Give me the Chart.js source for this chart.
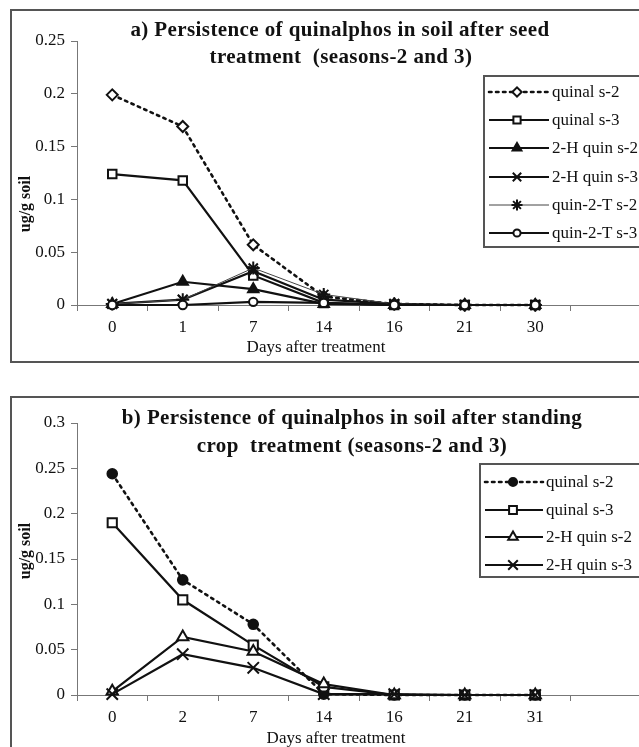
<!DOCTYPE html>
<html><head><meta charset="utf-8">
<script src="https://cdn.jsdelivr.net/npm/chart.js@4.4.0/dist/chart.umd.min.js"></script>
<style>
html,body{margin:0;padding:0;background:#fff;}
body{width:639px;height:747px;overflow:hidden;position:relative;font-family:'Liberation Serif','Times New Roman',serif;color:#111;}
.box{position:absolute;border:2px solid #555;box-sizing:border-box;background:#fff;}
canvas.cv{position:absolute;left:0;}
.t{position:absolute;white-space:pre;transform:translate(-50%,-50%);line-height:1;}
.main{font-weight:bold;font-size:21px;letter-spacing:0.4px;}
.xt{font-size:17px;}
.yt{font-size:16px;font-weight:bold;transform:translate(-50%,-50%) rotate(-90deg);}
.leg{position:absolute;border:2px solid #555;background:#fff;box-sizing:border-box;}
.li{position:absolute;left:0;height:18px;display:flex;align-items:center;white-space:pre;font-size:17px;}
.li canvas{display:block;}
</style>
</head><body>
<div class="box" style="left:10px;top:9px;width:640px;height:354px;"></div>
<div class="box" style="left:10px;top:396px;width:640px;height:380px;"></div>
<canvas id="ca" class="cv" width="660" height="362" style="top:0px;"></canvas>
<canvas id="cb" class="cv" width="660" height="365" style="top:382px;"></canvas>
<div id="overlay"></div>
<script>
// ---- Data ----
const daysA = ['0', '1', '7', '14', '16', '21', '30', ''];
const daysB = ['0', '2', '7', '14', '16', '21', '31', ''];
const yTickLabelsA = ['0', '0.05', '0.1', '0.15', '0.2', '0.25'];
const yTickLabelsB = ['0', '0.05', '0.1', '0.15', '0.2', '0.25', '0.3'];

const namesA = ['quinal s-2', 'quinal s-3', '2-H quin s-2', '2-H quin s-3', 'quin-2-T s-2', 'quin-2-T s-3'];
const quinalS2A = [0.199, 0.169, 0.057, 0.008, 0.001, 0, 0];
const quinalS3A = [0.124, 0.118, 0.028, 0.002, 0, 0, 0];
const hQuinS2A  = [0.001, 0.022, 0.015, 0.001, 0, 0, 0];
const hQuinS3A  = [0.001, 0.005, 0.032, 0.005, 0.001, 0, 0];
const tQuinS2A  = [0.001, 0.005, 0.035, 0.010, 0.001, 0, 0];
const tQuinS3A  = [0, 0, 0.003, 0.002, 0, 0, 0];

const namesB = ['quinal s-2', 'quinal s-3', '2-H quin s-2', '2-H quin s-3'];
const quinalS2B = [0.244, 0.127, 0.078, 0.001, 0, 0, 0];
const quinalS3B = [0.190, 0.105, 0.055, 0.009, 0, 0, 0];
const hQuinS2B  = [0.004, 0.064, 0.048, 0.012, 0, 0, 0];
const hQuinS3B  = [0.001, 0.045, 0.030, 0.001, 0.001, 0, 0];

const titleA = ['a) Persistence of quinalphos in soil after seed', 'treatment  (seasons-2 and 3)'];
const titleB = ['b) Persistence of quinalphos in soil after standing', 'crop  treatment (seasons-2 and 3)'];
const xTitle = 'Days after treatment';
const yTitle = 'ug/g soil';

// ---- Styles ----
const FONT = "'Liberation Serif','Times New Roman',serif";
const INK = '#111';
const dotted = {dash: [2.5, 4.5], width: 2.6};
const stylesA = [
  {ps: 'rectRot', r: 5.5, fill: '#fff', ...dotted},
  {ps: 'rect', r: 6, fill: '#fff', dash: [], width: 2.2},
  {ps: 'triangle', r: 6, fill: INK, dash: [], width: 2.2},
  {ps: 'crossRot', r: 7, fill: INK, dash: [], width: 2.2},
  {ps: 'star', r: 6.5, fill: INK, dash: [], width: 1, color: '#444'},
  {ps: 'circle', r: 4.2, fill: '#fff', dash: [], width: 2.2}
];
const stylesB = [
  {ps: 'circle', r: 4.8, fill: INK, ...dotted},
  {ps: 'rect', r: 6.5, fill: '#fff', dash: [], width: 2.2},
  {ps: 'triangle', r: 6.5, fill: '#fff', dash: [], width: 2.2},
  {ps: 'crossRot', r: 8, fill: INK, dash: [], width: 2.2}
];

function buildSets(names, series, styles) {
  return names.map((n, i) => {
    const s = styles[i];
    return {
      label: n, data: series[i], order: names.length - i,
      borderColor: s.color || INK, borderWidth: s.width, borderDash: s.dash,
      borderCapStyle: s.dash.length ? 'round' : 'butt',
      pointStyle: s.ps, pointRadius: s.r, pointBackgroundColor: s.fill,
      pointBorderColor: INK, pointBorderWidth: 2,
      tension: 0, fill: false, clip: false, spanGaps: false
    };
  });
}

function makeChart(id, labels, sets, yMax, yLabels, padTop, padBottom) {
  return new Chart(document.getElementById(id), {
    type: 'line',
    data: {labels: labels, datasets: sets},
    options: {
      responsive: false, animation: false, devicePixelRatio: 1,
      layout: {padding: {left: 9, right: 19, top: padTop, bottom: padBottom}},
      plugins: {legend: {display: false}, tooltip: {enabled: false}, title: {display: false}},
      scales: {
        x: {
          type: 'category', offset: true,
          grid: {display: true, drawOnChartArea: false, drawTicks: true, tickLength: 6, color: '#777', offset: true},
          border: {display: true, color: '#777', width: 1},
          ticks: {font: {family: FONT, size: 17}, color: INK, padding: 6, autoSkip: false, maxRotation: 0},
          afterFit: s => { s.height = 40; }
        },
        y: {
          min: 0, max: yMax,
          grid: {display: true, drawOnChartArea: false, drawTicks: true, tickLength: 6, color: '#777'},
          border: {display: true, color: '#777', width: 1},
          ticks: {stepSize: 0.05, font: {family: FONT, size: 17}, color: INK, padding: 6,
                  callback: (v, i) => yLabels[i]},
          afterFit: s => { s.width = 68; }
        }
      }
    }
  });
}

makeChart('ca', daysA, buildSets(namesA, [quinalS2A, quinalS3A, hQuinS2A, hQuinS3A, tQuinS2A, tQuinS3A], stylesA), 0.25, yTickLabelsA, 41, 17);
makeChart('cb', daysB, buildSets(namesB, [quinalS2B, quinalS3B, hQuinS2B, hQuinS3B], stylesB), 0.3, yTickLabelsB, 41, 12);

// ---- Text overlays ----
const ov = document.getElementById('overlay');
function txt(cls, s, x, y) {
  const d = document.createElement('div');
  d.className = 't ' + cls; d.textContent = s;
  d.style.left = x + 'px'; d.style.top = y + 'px';
  ov.appendChild(d);
}
txt('main', titleA[0], 340, 29);
txt('main', titleA[1], 341, 56);
txt('main', titleB[0], 352, 417);
txt('main', titleB[1], 352, 445);
txt('xt', xTitle, 316, 346);
txt('xt', xTitle, 336, 737);
txt('yt', yTitle, 25, 204);
txt('yt', yTitle, 25, 551);

// ---- Legends ----
function legend(names, styles, left, top, height, firstY, step, lineW, markX) {
  const box = document.createElement('div');
  box.className = 'leg';
  box.style.left = left + 'px'; box.style.top = top + 'px';
  box.style.width = (660 - left) + 'px'; box.style.height = height + 'px';
  ov.appendChild(box);
  names.forEach((n, i) => {
    const s = styles[i];
    const row = document.createElement('div');
    row.className = 'li';
    row.style.left = (left + 4) + 'px';
    row.style.top = (top + firstY + i * step - 9) + 'px';
    row.style.position = 'absolute';
    const c = document.createElement('canvas');
    c.width = lineW + 4; c.height = 18;
    const ctx = c.getContext('2d');
    ctx.strokeStyle = s.color || INK; ctx.lineWidth = s.width;
    ctx.setLineDash(s.dash); ctx.lineCap = s.dash.length ? 'round' : 'butt';
    ctx.beginPath(); ctx.moveTo(2, 9); ctx.lineTo(lineW + 2, 9); ctx.stroke();
    ctx.setLineDash([]);
    ctx.fillStyle = s.fill; ctx.strokeStyle = INK; ctx.lineWidth = 2;
    const opts = {pointStyle: s.ps, radius: s.r * 0.85, borderWidth: 2, rotation: 0};
    if (Chart.helpers && Chart.helpers.drawPoint) {
      Chart.helpers.drawPoint(ctx, opts, markX + 2, 9);
    } else {
      ctx.beginPath(); ctx.arc(markX + 2, 9, s.r * 0.8, 0, Math.PI * 2); ctx.fill(); ctx.stroke();
    }
    row.appendChild(c);
    const sp = document.createElement('span');
    sp.textContent = n; sp.style.marginLeft = '1px';
    row.appendChild(sp);
    ov.appendChild(row);
  });
}
legend(namesA, stylesA, 483, 75, 173, 17, 28.2, 60, 28);
legend(namesB, stylesB, 479, 463, 115, 19, 27.7, 58, 28);
</script>
</body></html>
